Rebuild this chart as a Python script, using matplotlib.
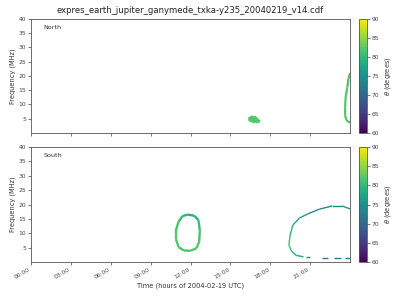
import datetime as dt
import numpy as np
import matplotlib
matplotlib.use("Agg")
import matplotlib.pyplot as plt
import matplotlib.dates as mdates
from matplotlib.collections import LineCollection

day = dt.datetime(2004, 2, 19)

# north: small blob (filled) around 17h, and arc at right edge
north_blob_t = [16.35, 16.6, 16.9, 17.1, 17.25, 17.1, 16.7, 16.4]
north_blob_f = [5.3, 6.0, 5.8, 4.9, 4.2, 3.5, 3.7, 4.2]
north_blob_theta = 82

north_arc_t = [24.0, 23.88, 23.8, 23.68, 23.63, 23.64, 23.72, 23.85, 24.0]
north_arc_f = [21.0, 19.0, 16.0, 13.0, 9.0, 6.0, 4.6, 4.0, 3.7]
north_arc_theta = [81.5, 81.5, 82, 82, 82, 82, 82, 81.5, 81.5]

# south: closed oval near noon, open arc starting ~19:30
south_oval_t = [11.8, 12.3, 12.6, 12.7, 12.65, 12.45, 12.0, 11.5, 11.1, 10.9, 10.9, 11.1, 11.4, 11.8]
south_oval_f = [16.5, 16.1, 14.5, 11.0, 7.0, 4.8, 3.9, 4.0, 5.2, 8.0, 11.0, 14.0, 16.0, 16.5]
south_oval_theta = [79, 79.5, 80.5, 81.5, 82, 82, 81.5, 81.5, 82, 82, 81.5, 80.5, 79.5, 79]

south_arc_t = [24.0, 23.4, 22.65, 21.7, 20.8, 20.2, 19.7, 19.5, 19.4, 19.6, 19.95, 20.5,
               np.nan, 20.7, 21.0, np.nan, 21.9, 22.35, np.nan, 22.8, 23.3, np.nan, 23.6, 24.0]
south_arc_f = [18.5, 19.5, 19.5, 18.4, 16.7, 15.3, 12.9, 9.4, 5.9, 3.8, 2.3, 1.8,
               np.nan, 1.6, 1.6, np.nan, 1.4, 1.4, np.nan, 1.4, 1.4, np.nan, 1.5, 1.5]
south_arc_theta = [75, 74, 73.5, 74, 76, 77.5, 79, 80.5, 80.5, 79, 77.5, 76,
                   np.nan, 75, 75, np.nan, 73, 73, np.nan, 72.5, 72.5, np.nan, 73, 73]

cmap = plt.get_cmap("viridis")
norm = plt.Normalize(60, 90)


def to_dates(hours):
    return [mdates.date2num(day + dt.timedelta(hours=h)) if not np.isnan(h) else np.nan for h in hours]


def draw_curve(ax, t, f, theta, lw):
    x = to_dates(t)
    segs, vals = [], []
    for i in range(len(x) - 1):
        if np.isnan(x[i]) or np.isnan(x[i + 1]):
            continue
        segs.append([(x[i], f[i]), (x[i + 1], f[i + 1])])
        vals.append(theta[i])
    lc = LineCollection(segs, cmap=cmap, norm=norm, linewidths=lw, capstyle="butt")
    lc.set_array(np.array(vals))
    ax.add_collection(lc)
    return lc


fig = plt.figure(figsize=(4, 3), dpi=100)
ax1 = fig.add_axes([0.0775, 0.5567, 0.7975, 0.38])
ax2 = fig.add_axes([0.0775, 0.1267, 0.7975, 0.383])
cax1 = fig.add_axes([0.8975, 0.5567, 0.019, 0.38])
cax2 = fig.add_axes([0.8975, 0.1267, 0.019, 0.383])

ax1.fill(to_dates(north_blob_t), north_blob_f, color=cmap(norm(north_blob_theta)), lw=0.5,
         ec=cmap(norm(north_blob_theta)))
draw_curve(ax1, north_arc_t, north_arc_f, north_arc_theta, 1.6)
draw_curve(ax2, south_oval_t, south_oval_f, south_oval_theta, 1.7)
draw_curve(ax2, south_arc_t, south_arc_f, south_arc_theta, 1.0)

for ax, name in [(ax1, "North"), (ax2, "South")]:
    ax.set_xlim(mdates.date2num(day), mdates.date2num(day + dt.timedelta(hours=23, minutes=59, seconds=59)))
    ax.set_ylim(0, 40)
    ax.set_yticks([5, 10, 15, 20, 25, 30, 35, 40])
    ax.xaxis.set_major_locator(mdates.HourLocator(interval=3))
    ax.xaxis.set_major_formatter(mdates.DateFormatter("%H:%M"))
    ax.tick_params(labelsize=4.3, length=2, width=0.5, pad=1.5, colors="#444444")
    ax.set_ylabel("Frequency (MHz)", fontsize=4.8, labelpad=2, color="#333333")
    ax.text(0.04, 0.91, name, transform=ax.transAxes, fontsize=4.6, color="#333333")
    for s in ax.spines.values():
        s.set_linewidth(0.6)
        s.set_color("#555555")

ax1.tick_params(labelbottom=False)
for lab in ax2.get_xticklabels():
    lab.set_rotation(30)
    lab.set_ha("right")
ax2.set_xlabel("Time (hours of 2004-02-19 UTC)", fontsize=4.8, labelpad=2, color="#333333")
ax1.set_title("expres_earth_jupiter_ganymede_txka-y235_20040219_v14.cdf", fontsize=6.1, pad=4,
              color="#222222")

sm = plt.cm.ScalarMappable(norm=norm, cmap=cmap)
for cax in (cax1, cax2):
    cb = fig.colorbar(sm, cax=cax)
    cb.set_ticks([60, 65, 70, 75, 80, 85, 90])
    cb.ax.tick_params(labelsize=4.3, length=2, width=0.5, pad=1.5, colors="#444444")
    cb.set_label(r"$\theta$ (degrees)", fontsize=4.8, labelpad=3, color="#333333")
    cb.outline.set_linewidth(0.6)
    cb.outline.set_edgecolor("#555555")

fig.savefig("out.png", dpi=100)
